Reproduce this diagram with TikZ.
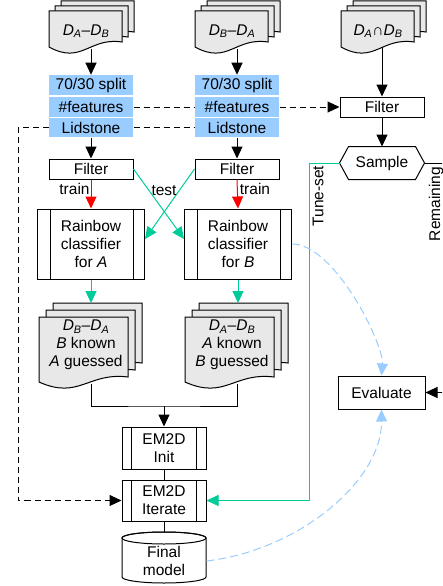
\documentclass[tikz,border=0pt]{standalone}
\usepackage{fontspec}
\setmainfont{Liberation Sans}
\usetikzlibrary{arrows.meta}
\definecolor{lblue}{RGB}{153,204,255}
\definecolor{docgray}{RGB}{232,232,232}
\definecolor{tgreen}{RGB}{0,204,153}
\definecolor{ared}{RGB}{255,0,0}
\newcommand{\docpage}[4]{%
 \pgfmathsetmacro{\dpxr}{#1+#3}\pgfmathsetmacro{\dpyb}{#2+#4}%
 \pgfmathsetmacro{\dpybr}{\dpyb-5}\pgfmathsetmacro{\dpca}{#1+0.55*#3}\pgfmathsetmacro{\dpcay}{\dpyb-10}%
 \pgfmathsetmacro{\dpcb}{#1+0.45*#3}\pgfmathsetmacro{\dpcby}{\dpyb+18}%
 \filldraw[docpg] (#1,#2) -- (\dpxr,#2) -- (\dpxr,\dpybr) .. controls (\dpca,\dpcay) and (\dpcb,\dpcby) .. (#1,\dpyb) -- cycle;}
\newcommand{\docstack}[6]{% x y w h dx dy
 \docpage{#1+2*#5}{#2+2*#6}{#3}{#4}%
 \docpage{#1+#5}{#2+#6}{#3}{#4}%
 \docpage{#1}{#2}{#3}{#4}}
\newcommand{\DD}[1]{\textit{D}\textsubscript{\textit{#1}}}
\begin{document}
\begin{tikzpicture}[x=1pt,y=-1pt, line width=1pt,
 every node/.style={font=\fontsize{15.5}{18}\selectfont, inner sep=0pt},
 box/.style={draw, fill=white, minimum width=84pt, minimum height=20pt},
 bluebox/.style={fill=lblue, minimum width=84pt, minimum height=19.5pt},
 procbox/.style={draw, fill=white, align=center},
 docpg/.style={draw, fill=docgray},
 arr/.style={-{Triangle[width=11pt,length=12pt]}},
 dsh/.style={dash pattern=on 6pt off 4pt},
 ldsh/.style={lblue, dash pattern=on 8pt off 4pt}]
\useasboundingbox (0,0) rectangle (442,586);
\clip (0,0) rectangle (442,586);

% documents
\docstack{49}{11}{73}{36}{6}{-5}
\docstack{195}{11}{73}{36}{6}{-5}
\docstack{341}{11}{73}{36}{6}{-5}
\docstack{39}{317}{89}{65}{7}{-7}
\docstack{185}{317}{89}{65}{7}{-7}
\node (tdA) at (86,31) {\DD{A}--\DD{B}};
\node (tdB) at (232,31) {\DD{B}--\DD{A}};
\node (tdC) at (378,31) {\DD{A}∩\DD{B}};
\node[align=center] (bdA) at (86,345) {\DD{B}--\DD{A}\\\textit{B} known\\\textit{A} guessed};
\node[align=center] (bdB) at (232,345) {\DD{A}--\DD{B}\\\textit{A} known\\\textit{B} guessed};

% blue parameter boxes
\node[bluebox] (splA) at (91,85) {70/30 split};
\node[bluebox] (feaA) at (91,107) {\#features};
\node[bluebox] (lidA) at (91,127.5) {Lidstone};
\node[bluebox] (splB) at (237,85) {70/30 split};
\node[bluebox] (feaB) at (237,107) {\#features};
\node[bluebox] (lidB) at (237,127.5) {Lidstone};

% filters
\node[box] (filA) at (91,169) {Filter};
\node[box] (filB) at (237,169) {Filter};
\node[box] (filC) at (382,107) {Filter};

% sample hexagon
\node[minimum width=84pt, minimum height=32pt] (sample) at (382,163) {};
\draw (sample.west) -- ([xshift=9pt]sample.north west) -- ([xshift=-9pt]sample.north east) -- (sample.east) -- ([xshift=-9pt]sample.south east) -- ([xshift=9pt]sample.south west) -- cycle;
\node (sampletxt) at (382,163) {Sample};

% classifiers
\node[procbox, minimum width=107pt, minimum height=70pt] (rbA) at (91,244) {Rainbow\\classifier\\for \textit{A}};
\node[procbox, minimum width=107pt, minimum height=70pt] (rbB) at (238,244) {Rainbow\\classifier\\for \textit{B}};
\draw ([xshift=13pt]rbA.north west) -- ([xshift=13pt]rbA.south west);
\draw ([xshift=-12pt]rbA.north east) -- ([xshift=-12pt]rbA.south east);
\draw ([xshift=13pt]rbB.north west) -- ([xshift=13pt]rbB.south west);
\draw ([xshift=-12pt]rbB.north east) -- ([xshift=-12pt]rbB.south east);

% EM2D
\node[procbox, minimum width=84pt, minimum height=42pt] (init) at (164,448) {EM2D\\Init};
\node[procbox, minimum width=84pt, minimum height=41pt] (iter) at (164,500.5) {EM2D\\Iterate};
\draw ([xshift=10pt]init.north west) -- ([xshift=10pt]init.south west);
\draw ([xshift=-10pt]init.north east) -- ([xshift=-10pt]init.south east);
\draw ([xshift=10pt]iter.north west) -- ([xshift=10pt]iter.south west);
\draw ([xshift=-10pt]iter.north east) -- ([xshift=-10pt]iter.south east);

% final model cylinder
\filldraw[fill=white] (122,538) -- (122,577) arc[start angle=180,end angle=360,x radius=42pt,y radius=6pt] -- (206,538) arc[start angle=0,end angle=180,x radius=42pt,y radius=6pt] -- cycle;
\draw (164,538) ellipse [x radius=42pt, y radius=6pt];
\node[align=center, minimum width=84pt] (fm) at (164,561) {Final\\model};
\coordinate (fmtop) at (164,532);

% evaluate
\node[box, minimum width=87pt, minimum height=33pt] (eval) at (381.5,392.5) {Evaluate};

% connectors: docs to boxes
\coordinate (dAb) at (91,49);
\coordinate (dBb) at (237,49);
\coordinate (dCb) at (382,47);
\draw[arr] (dAb) -- (splA.north);
\draw[arr] (dBb) -- (splB.north);
\draw[arr] (dCb) -- (filC.north);
\draw[arr] (lidA.south) -- (filA.north);
\draw[arr] (lidB.south) -- (filB.north);
\draw[arr] (filC.south) -- (sample.north);

% dashed parameter links
\draw[dsh] (feaA.east) -- (feaB.west);
\draw[dsh] (lidA.east) -- (lidB.west);
\draw[dsh, arr] (feaB.east) -- (filC.west);
\coordinate (dl) at (18,127.5);
\draw[dsh, arr] (lidA.west) -- (dl) |- (iter.west);

% train / test
\draw[arr, ared] (filA.south) -- (rbA.north);
\draw[arr, ared] (filB.south) -- (rbB.north);
\node (trA) at (74.5,189) {train};
\node (trB) at (255,189) {train};
\draw[arr, tgreen] (filA.east) -- ([yshift=5pt]rbB.west);
\draw[arr, tgreen] (filB.west) -- ([yshift=5pt]rbA.east);
\node (test) at (164,191) {test};

% classifier outputs
\coordinate (ldT) at (91,303);
\coordinate (rdT) at (238,303);
\draw[arr, tgreen] (rbA.south) -- (ldT);
\draw[arr, tgreen] (rbB.south) -- (rdT);
\coordinate (ldb) at (91,384);
\coordinate (rdb) at (237,384);
\coordinate (join) at (164,406);
\draw (ldb) |- (join) -| (rdb);
\draw[arr] (join) -- (init.north);
\draw (init.south) -- (iter.north);
\draw (iter.south) -- (fmtop);

% tune-set
\coordinate (tc) at (309,163);
\draw[arr, tgreen] (sample.west) -- (tc) |- (iter.east);
\node[rotate=90] (tlab) at (318,196) {Tune-set};

% remaining
\coordinate (rc1) at (455,163);
\coordinate (rc2) at (455,392.5);
\draw (sample.east) -- (rc1) -- (rc2);
\draw[arr] (rc2) -- (eval.east);
\node[rotate=90] (rlab) at (436,204) {Remaining};

% evaluation curves
\draw[ldsh, -{Triangle[width=11pt,length=12pt]}] (rbB.east) .. controls (335,244) and (384,345) .. (eval.north);
\draw[ldsh, -{Triangle[width=11pt,length=12pt]}] (fm.east) .. controls (300,550) and (382,480) .. (eval.south);
\end{tikzpicture}
\end{document}
